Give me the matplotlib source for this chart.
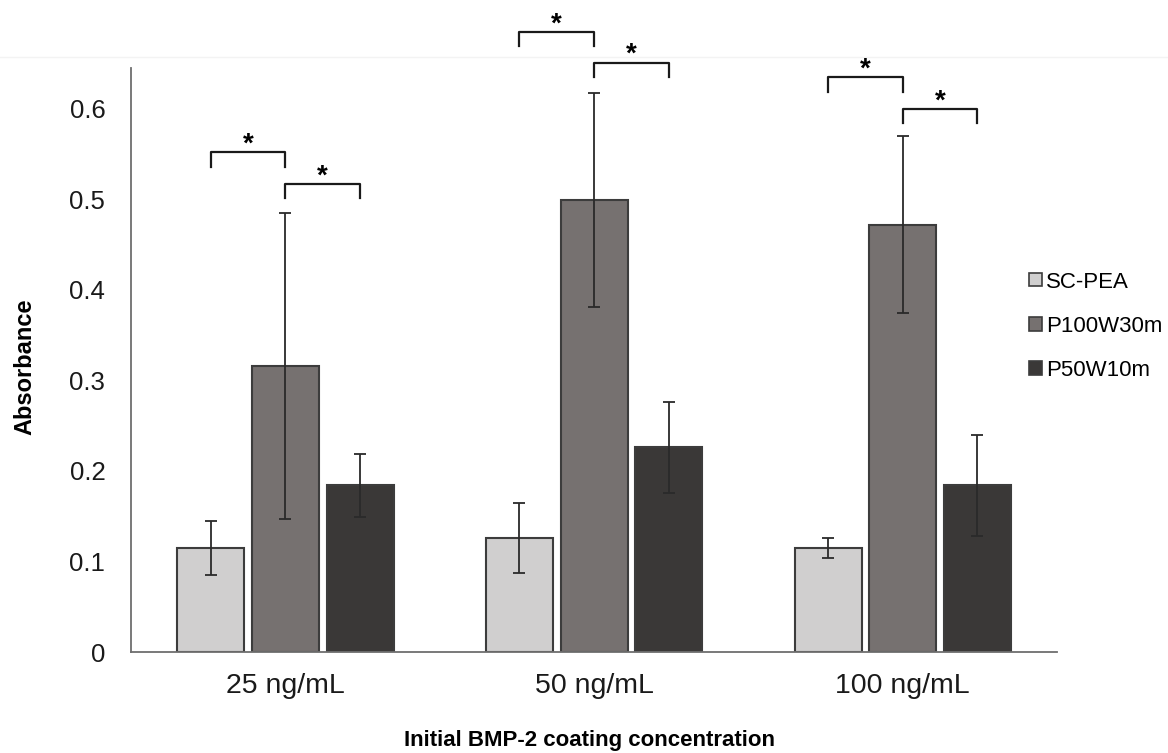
import matplotlib.pyplot as plt
from matplotlib.patches import Patch
from matplotlib.lines import Line2D
import numpy as np

plt.rcParams['font.family'] = ['Liberation Sans', 'DejaVu Sans']

categories = ["25 ng/mL", "50 ng/mL", "100 ng/mL"]
series = ["SC-PEA", "P100W30m", "P50W10m"]
sc_pea = [0.115, 0.126, 0.115]
sc_pea_err = [0.030, 0.039, 0.011]
p100 = [0.316, 0.499, 0.472]
p100_err = [0.169, 0.118, 0.098]
p50 = [0.184, 0.226, 0.184]
p50_err = [0.035, 0.050, 0.056]
# significance bracket heights per group: (SC-PEA vs P100, P100 vs P50)
bracket_y = [(0.552, 0.517), (0.685, 0.651), (0.635, 0.600)]

colors = ["#d0cfcf", "#767170", "#3a3837"]
edge = "#3c3c3c"

fig = plt.figure(figsize=(11.68, 7.53), dpi=100)
ax = fig.add_axes([0.1122, 0.1341, 0.7928, 0.7756])

x = np.arange(len(categories))
offset = 0.242
width = 0.217
values = [sc_pea, p100, p50]
errors = [sc_pea_err, p100_err, p50_err]
for i, (vals, errs) in enumerate(zip(values, errors)):
    ax.bar(x + (i - 1) * offset, vals, width, color=colors[i], edgecolor=edge,
           linewidth=1.5, label=series[i], zorder=2)
    ax.errorbar(x + (i - 1) * offset, vals, yerr=errs, fmt="none", ecolor="#2a2a2a",
                elinewidth=1.3, capsize=4, capthick=1.3, zorder=3)

# significance brackets
leg = 0.016
for g, (y1, y2) in enumerate(bracket_y):
    for (xa, xb, yb) in [(x[g] - offset, x[g], y1), (x[g], x[g] + offset, y2)]:
        ax.plot([xa, xa, xb, xb], [yb - leg, yb, yb, yb - leg], color="#1a1a1a",
                lw=1.6, clip_on=False, zorder=4)
        ax.text((xa + xb) / 2, yb - 0.006, "*", ha="center", va="bottom",
                fontsize=20, fontweight="bold", clip_on=False)

ax.set_xlim(-0.5, 2.5)
ax.set_ylim(0, 0.645)
ax.set_yticks([0, 0.1, 0.2, 0.3, 0.4, 0.5, 0.6])
ax.set_yticklabels(["0", "0.1", "0.2", "0.3", "0.4", "0.5", "0.6"])
ax.set_xticks(x)
ax.set_xticklabels(categories)
ax.tick_params(axis="both", length=0, colors="#1a1a1a")
ax.tick_params(axis="x", pad=15, labelsize=20.5)
ax.tick_params(axis="y", pad=18.5, labelsize=18.5)
for s in ["top", "right"]:
    ax.spines[s].set_visible(False)
for s in ["left", "bottom"]:
    ax.spines[s].set_color("#6e6e6e")
    ax.spines[s].set_linewidth(1.3)

fig.text(0.021, 0.5126, "Absorbance", rotation=90, ha="center", va="center",
         fontsize=17, fontweight="bold")
fig.text(0.505, 0.017, "Initial BMP-2 coating concentration", ha="center",
         va="center", fontsize=16, fontweight="bold")

handles = [Patch(facecolor=c, edgecolor=edge, linewidth=1.2) for c in colors]
fig.legend(handles, series, loc="upper left", bbox_to_anchor=(0.864, 0.666),
           frameon=False, fontsize=16, handlelength=0.57, handleheight=0.57,
           handletextpad=0.2, labelspacing=1.05)

# faint border line of the original chart area
fig.add_artist(Line2D([0, 1], [1 - 57 / 753] * 2, color="#f3f3f3", lw=1, zorder=0))

fig.savefig("out.png", dpi=100)
